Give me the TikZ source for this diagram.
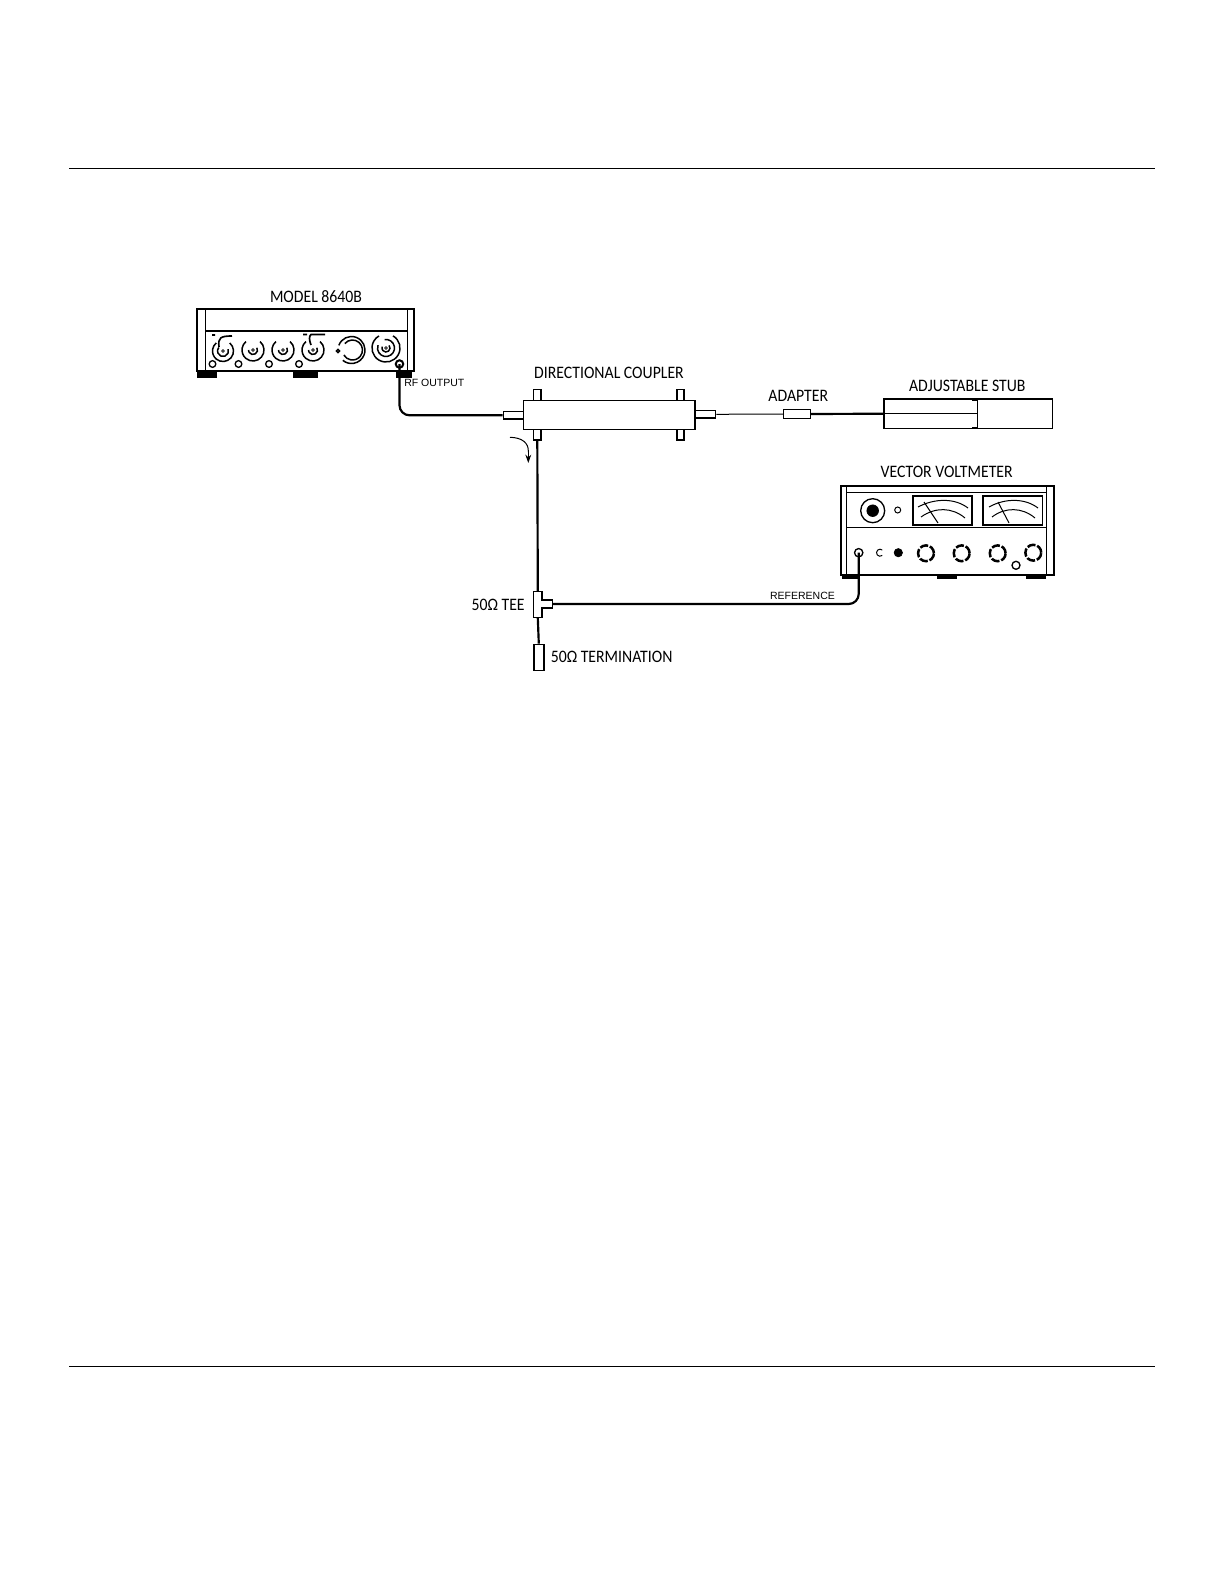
\documentclass[tikz,border=0pt]{standalone}
\usepackage{fontspec}
\usetikzlibrary{arrows.meta}
\setmainfont[FakeStretch=0.9]{Carlito}
\newfontfamily\smallfont{Liberation Sans}
\tikzset{
  partlabel/.style={inner sep=0pt, font=\fontsize{10.5}{11}\selectfont},
  tinylabel/.style={inner sep=0pt, font=\smallfont\fontsize{6.3}{7}\selectfont},
  part/.style={rectangle, draw, line width=0.85pt, fill=white, inner sep=0pt},
  knob/.style={circle, draw, line width=0.8pt, fill=white, inner sep=0pt},
  hub/.style={circle, draw, line width=0.4pt, fill=white, inner sep=0pt, minimum size=1.6pt},
  dial/.style={circle, draw, line width=1.5pt, dash pattern=on 5pt off 1.1pt, fill=white, inner sep=0pt, minimum size=9.5pt},
  blackknob/.style={circle, draw, fill=black, inner sep=0pt},
  foot/.style={rectangle, fill=black, inner sep=0pt},
  ring/.style={line width=0.9pt},
  wire/.style={line width=0.6pt},
  cable/.style={line width=1.3pt, rounded corners=6pt},
  panel/.style={line width=0.6pt}
}
\begin{document}
\begin{tikzpicture}[x=0.6pt, y=-0.6pt]
  \useasboundingbox (0,0) rectangle (1224,1584);
  \draw[line width=0.7pt] (69,168.5) -- (1155,168.5);
  \draw[line width=0.7pt] (69,1366.5) -- (1155,1366.5);

  \node[partlabel] (modeltext) at (316,296.5) {MODEL 8640B};
  \node[foot, minimum width=12pt, minimum height=4.5pt] (sigfootl) at (207,374) {};
  \node[foot, minimum width=15pt, minimum height=4pt] (sigfootm) at (305,374.5) {};
  \node[foot, minimum width=10pt, minimum height=4.5pt] (sigfootr) at (404,374) {};
  \node[part, minimum width=130pt, minimum height=37pt] (siggen) at (305.5,340) {};
  \draw[line width=1pt] (197,309) -- (414,309);
  \draw[panel] (205,309) -- (205,371);
  \draw[panel] (407,309) -- (407,371);
  \draw[line width=0.9pt] (205,331) -- (407,331);
  \draw[line width=1pt] (212,335) -- (215,335) (232,336) .. controls (220,336) and (218,338) .. (219,347);
  \draw[line width=1pt] (303,334.5) -- (307,334.5) (325,334.5) -- (311,334.5) .. controls (309,336) and (309,340) .. (311,345);

  \node[hub] (knoba) at (223,351) {};
  \draw[ring] (knoba.center) ++(-50:10.5) arc (-50:230:10.5);
  \draw[ring] (knoba.center) ++(-20:5.5) arc (-20:220:5.5);
  \node[hub] (knobb) at (253,350) {};
  \draw[ring] (knobb.center) ++(-50:11) arc (-50:230:11);
  \draw[ring] (knobb.center) ++(-30:4.5) arc (-30:180:4.5);
  \node[hub] (knobc) at (283,350) {};
  \draw[ring] (knobc.center) ++(-50:11) arc (-50:230:11);
  \draw[ring] (knobc.center) ++(-30:4.5) arc (-30:180:4.5);
  \node[hub] (knobd) at (313,350) {};
  \draw[ring] (knobd.center) ++(-50:11) arc (-50:230:11);
  \draw[ring] (knobd.center) ++(-30:4.5) arc (-30:180:4.5);
  \node[knob, minimum size=2pt] (knobe) at (338,351) {};
  \draw[ring] (351.5,350) ++(-160:13.5) arc (-160:130:13.5);
  \draw[ring] (352.5,350) ++(-140:10) arc (-140:150:10);
  \node[hub] (knobf) at (386,348) {};
  \draw[ring] (knobf.center) ++(-60:14) arc (-60:240:14);
  \draw[ring] (knobf.center) ++(-100:8.5) arc (-100:200:8.5);
  \draw[ring] (knobf.center) ++(-40:4) arc (-40:200:4);
  \node[knob, minimum size=4pt] (sma) at (212.5,364) {};
  \node[knob, minimum size=4pt] (smb) at (238.5,364) {};
  \node[knob, minimum size=4pt] (smc) at (269,364) {};
  \node[knob, minimum size=4pt] (smd) at (299,364) {};
  \node[knob, line width=1.2pt, minimum size=4.5pt] (rfjack) at (399.5,364) {};

  \node[tinylabel, anchor=west] (rftext) at (404,382.5) {RF OUTPUT};

  \node[partlabel] (cpltext) at (609,373) {DIRECTIONAL COUPLER};
  \node[part, minimum width=4.4pt, minimum height=6.4pt] (stubtl) at (537.3,395) {};
  \node[part, minimum width=4.4pt, minimum height=6.4pt] (stubtr) at (680.5,395) {};
  \node[part, minimum width=4.4pt, minimum height=6.4pt] (stubbl) at (537.3,434.5) {};
  \node[part, minimum width=4.4pt, minimum height=6.4pt] (stubbr) at (680.5,434.5) {};
  \node[part, minimum width=12pt, minimum height=4.4pt] (cplin) at (513.3,415.3) {};
  \node[part, minimum width=12.4pt, minimum height=4.4pt] (cplout) at (705.3,414.3) {};
  \node[part, minimum width=103pt, minimum height=17.2pt] (coupler) at (609.2,415) {};
  \draw[cable] (rfjack.center) |- (cplin.west);
  \draw[wire] (510,437.3) .. controls (522,437.5) and (529,443) .. (528.3,452);
  \draw[-{Stealth[length=5pt,width=3.5pt]}, wire] (528.3,452) -- (528.3,463);

  \node[partlabel] (adaptertext) at (798.3,396) {ADAPTER};
  \node[part, line width=0.6pt, minimum width=16pt, minimum height=5.6pt] (adapter) at (797.3,414) {};
  \node[partlabel] (stubtext) at (967.3,386) {ADJUSTABLE STUB};
  \node[part, minimum width=101pt, minimum height=17.6pt] (stubbox) at (968.2,413.7) {};
  \draw[wire] (cplout.east) -- (adapter.west);
  \draw[line width=1.3pt] (adapter.east) -- (stubbox.west);
  \draw[wire] (stubbox.west) -- (977.3,413.7);
  \draw[line width=0.9pt] (972,400) -- (977.3,400) -- (977.3,427.5) -- (972,427.5);

  \node[partlabel] (vvmtext) at (946.7,471.5) {VECTOR VOLTMETER};
  \node[foot, minimum width=10pt, minimum height=4pt] (vvmfootl) at (850,576) {};
  \node[foot, minimum width=12pt, minimum height=3.5pt] (vvmfootm) at (946.5,576) {};
  \node[foot, minimum width=12pt, minimum height=4pt] (vvmfootr) at (1036,576) {};
  \node[part, minimum width=127.8pt, minimum height=53.4pt] (vvm) at (947.5,530.5) {};
  \draw[panel] (846.7,486) -- (846.7,575);
  \draw[panel] (1046.7,486) -- (1046.7,575);
  \draw[panel] (846.7,492.7) -- (1046.7,492.7);
  \draw[line width=0.9pt] (846.7,527.7) -- (1046.7,527.7);
  \node[knob, minimum size=14.4pt] (crt) at (872.7,510.7) {};
  \node[blackknob, minimum size=7pt] (crti) at (872.7,510.7) {};
  \node[knob, line width=0.6pt, minimum size=3.6pt] (crtled) at (897.7,510) {};
  \node[part, line width=1pt, minimum width=35.4pt, minimum height=17.4pt] (metera) at (942.8,510.5) {};
  \node[part, line width=1pt, minimum width=35.8pt, minimum height=17.4pt] (meterb) at (1012.5,510.5) {};
  \draw[wire] (918,507) .. controls (935,498) and (955,498) .. (968,508);
  \draw[wire] (921,517) .. controls (935,507) and (952,507) .. (965,518);
  \draw[wire] (924,502) -- (938,523);
  \draw[wire] (989,507) .. controls (1005,498) and (1025,498) .. (1038,508);
  \draw[wire] (992,517) .. controls (1005,507) and (1022,507) .. (1035,518);
  \draw[wire] (998,502) -- (1009,523);
  \node[knob, minimum size=5pt] (refjack) at (858.7,552.7) {};
  \draw[line width=0.6pt] (882.25,555.4) arc (50:310:3.5);
  \node[blackknob, minimum size=5pt] (dot) at (898.3,552.7) {};
  \node[dial] (diala) at (926,553.3) {};
  \node[dial] (dialb) at (961.7,553.3) {};
  \node[dial] (dialc) at (997.7,553.3) {};
  \node[dial] (diald) at (1033.3,552.7) {};
  \node[knob, minimum size=4.8pt] (dialled) at (1016,565.3) {};

  \node[tinylabel] (reftext) at (802.5,596) {REFERENCE};
  \node[partlabel, anchor=east] (teetext) at (525,605) {50Ω\ TEE};
  \node[partlabel, anchor=west] (termtext) at (550.5,656.5) {50Ω\ TERMINATION};
  \node[part, minimum width=6pt, minimum height=15.8pt] (term) at (538.8,657.5) {};
  \node[part, minimum width=6.5pt, minimum height=5pt] (teearm) at (547,604) {};
  \node[part, minimum width=5.2pt, minimum height=15.4pt] (tee) at (537.8,604.5) {};
  \draw[fill=white, draw=none] (540,601) rectangle (544,607);
  \draw[line width=1.3pt] (stubbl.south) -- (tee.north);
  \draw[line width=1.3pt] (tee.south) -- (term.north);
  \draw[cable] (teearm.east) -| (refjack.center);
\end{tikzpicture}
\end{document}
